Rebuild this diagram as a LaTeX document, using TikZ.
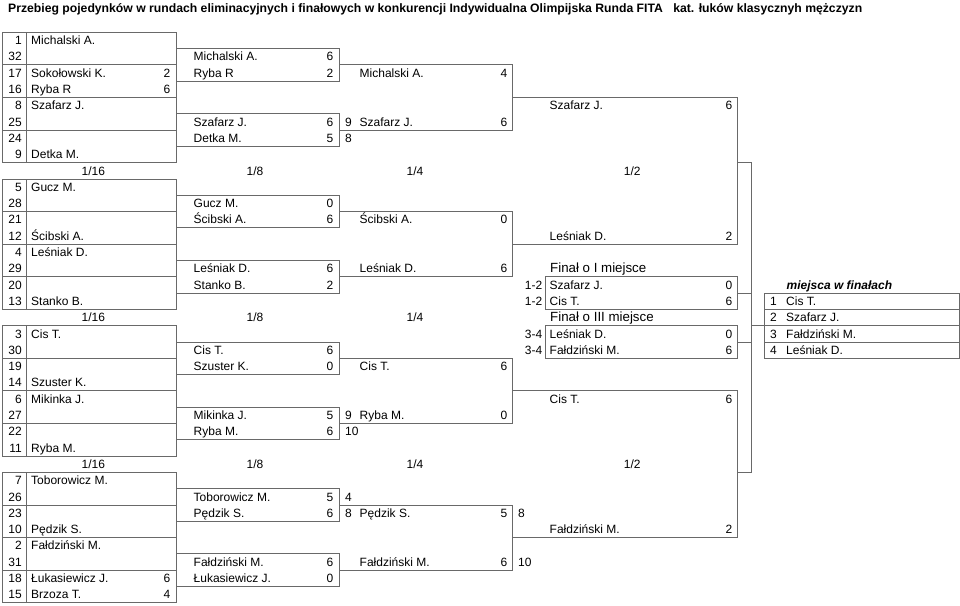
\documentclass[tikz,border=0pt]{standalone}
\usepackage{fontspec}
\setmainfont{Liberation Sans}
\definecolor{lc}{RGB}{105,105,105}
\newcount\tn
\def\yb#1{{32.3+16.3*(#1)}}
\newcommand\RY[1]{{32.3+16.3*(#1-0.5)+4.2}}
\newcommand\TL[3]{\global\advance\tn by 1\relax\edef\nm{t\the\tn}\node[tl] (\nm) at (#1,\RY{#2}) {#3};}
\newcommand\TR[3]{\global\advance\tn by 1\relax\edef\nm{t\the\tn}\node[tr] (\nm) at (#1,\RY{#2}) {#3};}
\newcommand\TC[3]{\global\advance\tn by 1\relax\edef\nm{t\the\tn}\node[tc] (\nm) at (#1,\RY{#2}) {#3};}
\begin{document}
\begin{tikzpicture}[x=1pt,y=-1pt,
  ln/.style={draw=lc,line width=1pt},
  tl/.style={inner sep=0pt,anchor=base west,font=\fontsize{12}{12}\selectfont},
  tr/.style={inner sep=0pt,anchor=base east,font=\fontsize{12}{12}\selectfont},
  tc/.style={inner sep=0pt,anchor=base,font=\fontsize{12}{12}\selectfont},
  big/.style={font=\fontsize{13.3}{13.3}\selectfont}]
\useasboundingbox (0,0) rectangle (960,605);
\fill[white] (0,0) rectangle (960,605);
\node[inner sep=0pt,anchor=base west,font=\fontsize{12.2}{12.2}\selectfont\bfseries] (title) at (8,12.4)
 {Przebieg pojedynków w rundach eliminacyjnych i finałowych w konkurencji Indywidualna Olimpijska Runda FITA\hspace{7pt} kat. łuków klasycznyh mężczyzn};
% ---- blocks
\foreach \s in {1,10,19,28} {
  \draw[ln] (2.7,\yb{\s-1}) rectangle (176,\yb{\s+7});
  \draw[ln] (26.7,\yb{\s-1}) -- (26.7,\yb{\s+7});
  \foreach \k in {1,3,5} {\draw[ln] (2.7,\yb{\s+\k}) -- (176,\yb{\s+\k});}
  \draw[ln] (176,\yb{\s}) rectangle (339,\yb{\s+2});
  \draw[ln] (176,\yb{\s+4}) rectangle (339,\yb{\s+6});
  \draw[ln] (339,\yb{\s+1}) -- (512.7,\yb{\s+1}) -- (512.7,\yb{\s+5}) -- (339,\yb{\s+5});
}
% semis
\draw[ln] (512.7,\yb{4}) -- (737.7,\yb{4}) -- (737.7,\yb{13}) -- (512.7,\yb{13});
\draw[ln] (512.7,\yb{22}) -- (737.7,\yb{22}) -- (737.7,\yb{31}) -- (512.7,\yb{31});
\draw[ln] (737.7,\yb{8}) -- (751.7,\yb{8}) -- (751.7,\yb{27}) -- (737.7,\yb{27});
% finals
\draw[ln] (545,\yb{15}) rectangle (737.7,\yb{17});
\draw[ln] (737.7,\yb{16}) -- (751.7,\yb{16});
\draw[ln] (545,\yb{18}) rectangle (737.7,\yb{20});
\draw[ln] (737.7,\yb{19}) -- (751.7,\yb{19});
% table
\draw[ln] (764.3,\yb{16}) rectangle (959.3,\yb{20});
\foreach \k in {17,18,19} {\draw[ln] (764.3,\yb{\k}) -- (959.3,\yb{\k});}
\draw[ln] (751.7,\yb{18}) -- (764.3,\yb{18});
% seeds
\foreach \r/\v in {1/1,2/32,3/17,4/16,5/8,6/25,7/24,8/9,
  10/5,11/28,12/21,13/12,14/4,15/29,16/20,17/13,
  19/3,20/30,21/19,22/14,23/6,24/27,25/22,26/11,
  28/7,29/26,30/23,31/10,32/2,33/31,34/18,35/15} {\TR{22}{\r}{\v}}
% 1/16 names
\foreach \r/\v in {1/Michalski A.,3/Sokołowski K.,4/Ryba R,5/Szafarz J.,8/Detka M.,
  10/Gucz M.,13/Ścibski A.,14/Leśniak D.,17/Stanko B.,
  19/Cis T.,22/Szuster K.,23/Mikinka J.,26/Ryba M.,
  28/Toborowicz M.,31/Pędzik S.,32/Fałdziński M.,34/Łukasiewicz J.,35/Brzoza T.} {\TL{31}{\r}{\v}}
\foreach \r/\v in {3/2,4/6,34/6,35/4} {\TR{170.5}{\r}{\v}}
% 1/8
\foreach \r/\v in {2/Michalski A.,3/Ryba R,6/Szafarz J.,7/Detka M.,
  11/Gucz M.,12/Ścibski A.,15/Leśniak D.,16/Stanko B.,
  20/Cis T.,21/Szuster K.,24/Mikinka J.,25/Ryba M.,
  29/Toborowicz M.,30/Pędzik S.,33/Fałdziński M.,34/Łukasiewicz J.} {\TL{193.5}{\r}{\v}}
\foreach \r/\v in {2/6,3/2,6/6,7/5,11/0,12/6,15/6,16/2,20/6,21/0,24/5,25/6,29/5,30/6,33/6,34/0} {\TR{333.5}{\r}{\v}}
\foreach \r/\v in {6/9,7/8,24/9,25/10,29/4,30/8} {\TL{345}{\r}{\v}}
% 1/4
\foreach \r/\v in {3/Michalski A.,6/Szafarz J.,12/Ścibski A.,15/Leśniak D.,
  21/Cis T.,24/Ryba M.,30/Pędzik S.,33/Fałdziński M.} {\TL{359.5}{\r}{\v}}
\foreach \r/\v in {3/4,6/6,12/0,15/6,21/6,24/0,30/5,33/6} {\TR{507.5}{\r}{\v}}
\foreach \r/\v in {30/8,33/10} {\TL{518}{\r}{\v}}
% 1/2
\foreach \r/\v in {5/Szafarz J.,13/Leśniak D.,23/Cis T.,31/Fałdziński M.} {\TL{549.5}{\r}{\v}}
\foreach \r/\v in {5/6,13/2,23/6,31/2} {\TR{732.5}{\r}{\v}}
% headers
\foreach \r in {9,18,27} {\TC{93.3}{\r}{1/16}\TC{255}{\r}{1/8}\TC{415}{\r}{1/4}}
\TC{632.3}{9}{1/2}
\TC{632.3}{27}{1/2}
% finals
\node[tl,big] (f1) at (550,\RY{15}) {Finał o I miejsce};
\node[tl,big] (f3) at (550,\RY{18}) {Finał o III miejsce};
\foreach \r/\a/\v/\sc in {16/1-2/Szafarz J./0,17/1-2/Cis T./6,19/3-4/Leśniak D./0,20/3-4/Fałdziński M./6} {
  \TR{542.5}{\r}{\a}\TL{549.5}{\r}{\v}\TR{732.5}{\r}{\sc}}
% table
\node[tl,font=\fontsize{12}{12}\selectfont\bfseries\itshape] (mf) at (786.5,\RY{16}) {miejsca w finałach};
\foreach \r/\a/\v in {17/1/Cis T.,18/2/Szafarz J.,19/3/Fałdziński M.,20/4/Leśniak D.} {
  \TL{770}{\r}{\a}\TL{786}{\r}{\v}}
\end{tikzpicture}
\end{document}
